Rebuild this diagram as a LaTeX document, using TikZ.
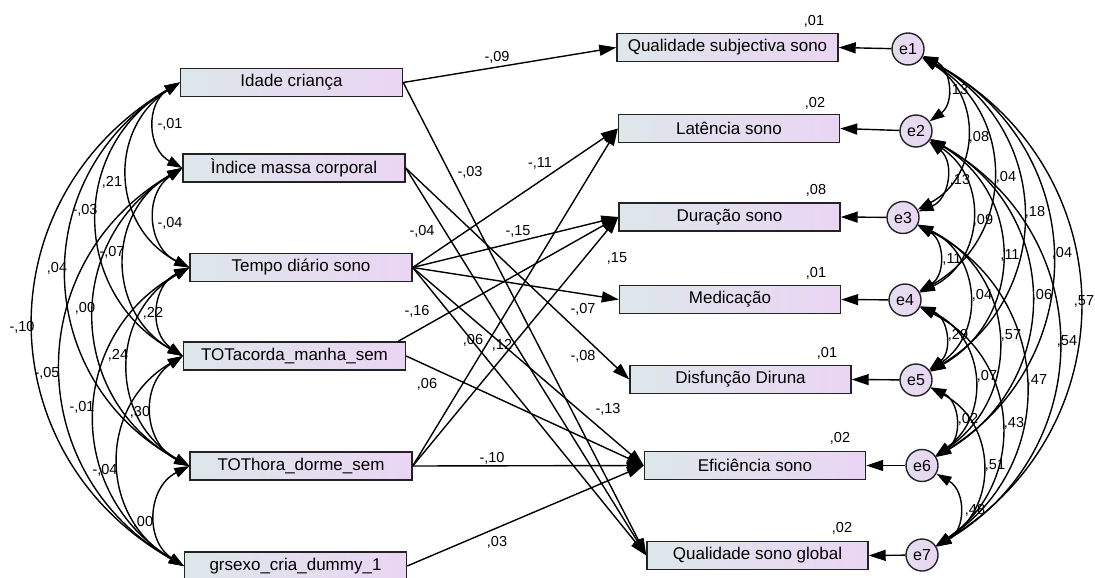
\documentclass[tikz,border=0pt]{standalone}
\usepackage{fontspec}
\setmainfont{Liberation Sans}
\usetikzlibrary{arrows.meta}
\definecolor{fillL}{RGB}{221,231,234}
\definecolor{fillR}{RGB}{234,213,244}
\definecolor{edge}{RGB}{35,35,35}
\tikzset{
  obs/.style={draw=edge, line width=1.4pt, left color=fillL, right color=fillR,
    minimum width=221pt, minimum height=28pt, inner sep=0pt,
    font=\fontsize{17}{20}\selectfont},
  err/.style={circle, draw=edge, line width=1.4pt, left color=fillL!50!fillR, right color=fillR,
    minimum size=32pt, inner sep=0pt, font=\fontsize{16}{19}\selectfont},
  coef/.style={inner sep=0pt, font=\fontsize{14.5}{17}\selectfont},
  reg/.style={line width=1.4pt, -{Triangle[length=17pt,width=11pt]}},
  cov/.style={line width=1.4pt, {Triangle[length=15pt,width=10pt]}-{Triangle[length=15pt,width=10pt]}, looseness=1.2},
}
\begin{document}
\begin{tikzpicture}[x=1pt,y=-1pt]
\useasboundingbox (0,0) rectangle (1095,578);

% exogenous variables
\node[obs, minimum width=222pt] (idade)  at (291.5,82.5) {Idade criança};
\node[obs, minimum width=222pt] (imc)    at (294,168)   {Ìndice massa corporal};
\node[obs, minimum width=222pt] (tempo)  at (301,267.5) {Tempo diário sono};
\node[obs, minimum width=222pt] (acorda) at (294.5,356) {TOTacorda\_manha\_sem};
\node[obs, minimum width=222pt] (dorme)  at (301,466)   {TOThora\_dorme\_sem};
\node[obs, minimum width=222pt] (sexo)   at (295.5,566) {grsexo\_cria\_dummy\_1};

% endogenous variables
\node[obs] (qs)   at (727.5,47.5)  {Qualidade subjectiva sono};
\node[obs] (lat)  at (729,128.5)   {Latência sono};
\node[obs] (dur)  at (729.5,217)   {Duração sono};
\node[obs] (med)  at (730,299.5)   {Medicação};
\node[obs] (disf) at (740.5,379.5) {Disfunção Diruna};
\node[obs] (efic) at (755,465.5)   {Eficiência sono};
\node[obs] (qsg)  at (757.5,555.5) {Qualidade sono global};

% squared multiple correlations
\node[coef] (r1) at (814,21)  {,01};
\node[coef] (r2) at (815,103) {,02};
\node[coef] (r3) at (816,190) {,08};
\node[coef] (r4) at (816,273) {,01};
\node[coef] (r5) at (827,353) {,01};
\node[coef] (r6) at (840,438) {,02};
\node[coef] (r7) at (842,528) {,02};

% residuals
\node[err] (e1) at (908,49)    {e1};
\node[err] (e2) at (916,131)   {e2};
\node[err] (e3) at (903,217.5) {e3};
\node[err] (e4) at (905,300)   {e4};
\node[err] (e5) at (916,380)   {e5};
\node[err] (e6) at (922,465.5) {e6};
\node[err] (e7) at (922,555)   {e7};

\draw[reg] (e1) -- (qs.east);
\draw[reg] (e2) -- (lat.east);
\draw[reg] (e3) -- (dur.east);
\draw[reg] (e4) -- (med.east);
\draw[reg] (e5) -- (disf.east);
\draw[reg] (e6) -- (efic.east);
\draw[reg] (e7) -- (qsg.east);

% regression paths
\draw[reg] (idade.east) -- (qs.west);
\draw[reg] (idade.east) -- (qsg.west);
\draw[reg] (imc.east) -- (disf.west);
\draw[reg] (imc.east) -- (qsg.west);
\draw[reg] (tempo.east) -- (lat.west);
\draw[reg] (tempo.east) -- (dur.west);
\draw[reg] (tempo.east) -- (med.west);
\draw[reg] (tempo.east) -- (efic.west);
\draw[reg] (tempo.east) -- (qsg.west);
\draw[reg] ([xshift=-8pt]acorda.north east) -- (dur.west);
\draw[reg] (acorda.east) -- (efic.west);
\draw[reg] (dorme.east) -- (lat.west);
\draw[reg] (dorme.east) -- (dur.west);
\draw[reg] (dorme.east) -- (efic.west);
\draw[reg] (sexo.east) -- (efic.west);

\node[coef] (b1)  at (497,57)  {-,09};
\node[coef] (b2)  at (470,172) {-,03};
\node[coef] (b3)  at (540,163) {-,11};
\node[coef] (b4)  at (422,231) {-,04};
\node[coef] (b5)  at (518,231) {-,15};
\node[coef] (b6)  at (617,258) {,15};
\node[coef] (b7)  at (417,311) {-,16};
\node[coef] (b8)  at (583,309) {-,07};
\node[coef] (b9)  at (473,340) {,06};
\node[coef] (b10) at (502,345) {,12};
\node[coef] (b11) at (583,356) {-,08};
\node[coef] (b12) at (427,384) {,06};
\node[coef] (b13) at (608,409) {-,13};
\node[coef] (b14) at (492,458) {-,10};
\node[coef] (b15) at (497,542) {,03};

% covariances among exogenous variables
\foreach \a/\b in {idade/imc, idade/tempo, idade/acorda, idade/dorme, idade/sexo,
                   imc/tempo, imc/acorda, imc/dorme, imc/sexo,
                   tempo/acorda, tempo/dorme, tempo/sexo,
                   acorda/dorme, acorda/sexo, dorme/sexo}
  \draw[cov] (\a.west) to[bend right=60] (\b.west);

\node[coef] (c1)  at (170,124) {-,01};
\node[coef] (c2)  at (112,182) {,21};
\node[coef] (c3)  at (85,210)  {-,03};
\node[coef] (c4)  at (170,223) {-,04};
\node[coef] (c5)  at (112,252) {-,07};
\node[coef] (c6)  at (57,268)  {,04};
\node[coef] (c7)  at (85,308)  {,00};
\node[coef] (c8)  at (153,313) {,22};
\node[coef] (c9)  at (22,327)  {-,10};
\node[coef] (c10) at (118,355) {,24};
\node[coef] (c11) at (47,373)  {-,05};
\node[coef] (c12) at (82,407)  {-,01};
\node[coef] (c13) at (140,412) {,30};
\node[coef] (c14) at (105,470) {-,04};
\node[coef] (c15) at (143,522) {,00};

% covariances among residuals
\foreach \a/\b in {e1/e2, e1/e3, e1/e4, e1/e5, e1/e6, e1/e7,
                   e2/e3, e2/e4, e2/e5, e2/e6, e2/e7,
                   e3/e4, e3/e5, e3/e6, e3/e7,
                   e4/e5, e4/e6, e4/e7,
                   e5/e6, e5/e7, e6/e7}
  \draw[cov] (\a) to[bend left=60] (\b);

\node[coef] (d1)  at (958,90)   {,13};
\node[coef] (d2)  at (979,137)  {,08};
\node[coef] (d3)  at (960,180)  {,13};
\node[coef] (d4)  at (1006,177) {,04};
\node[coef] (d5)  at (1035,212) {,18};
\node[coef] (d6)  at (983,220)  {,09};
\node[coef] (d7)  at (1010,255) {,11};
\node[coef] (d8)  at (1062,253) {,04};
\node[coef] (d9)  at (952,259)  {,11};
\node[coef] (d10) at (982,295)  {,04};
\node[coef] (d11) at (1042,295) {,06};
\node[coef] (d12) at (1084,301) {,57};
\node[coef] (d13) at (958,335)  {,29};
\node[coef] (d14) at (1011,335) {,57};
\node[coef] (d15) at (1067,341) {,54};
\node[coef] (d16) at (987,376)  {,07};
\node[coef] (d17) at (1037,380) {,47};
\node[coef] (d18) at (968,419)  {,02};
\node[coef] (d19) at (1014,423) {,43};
\node[coef] (d20) at (995,465)  {,51};
\node[coef] (d21) at (975,510)  {,48};
\end{tikzpicture}
\end{document}
